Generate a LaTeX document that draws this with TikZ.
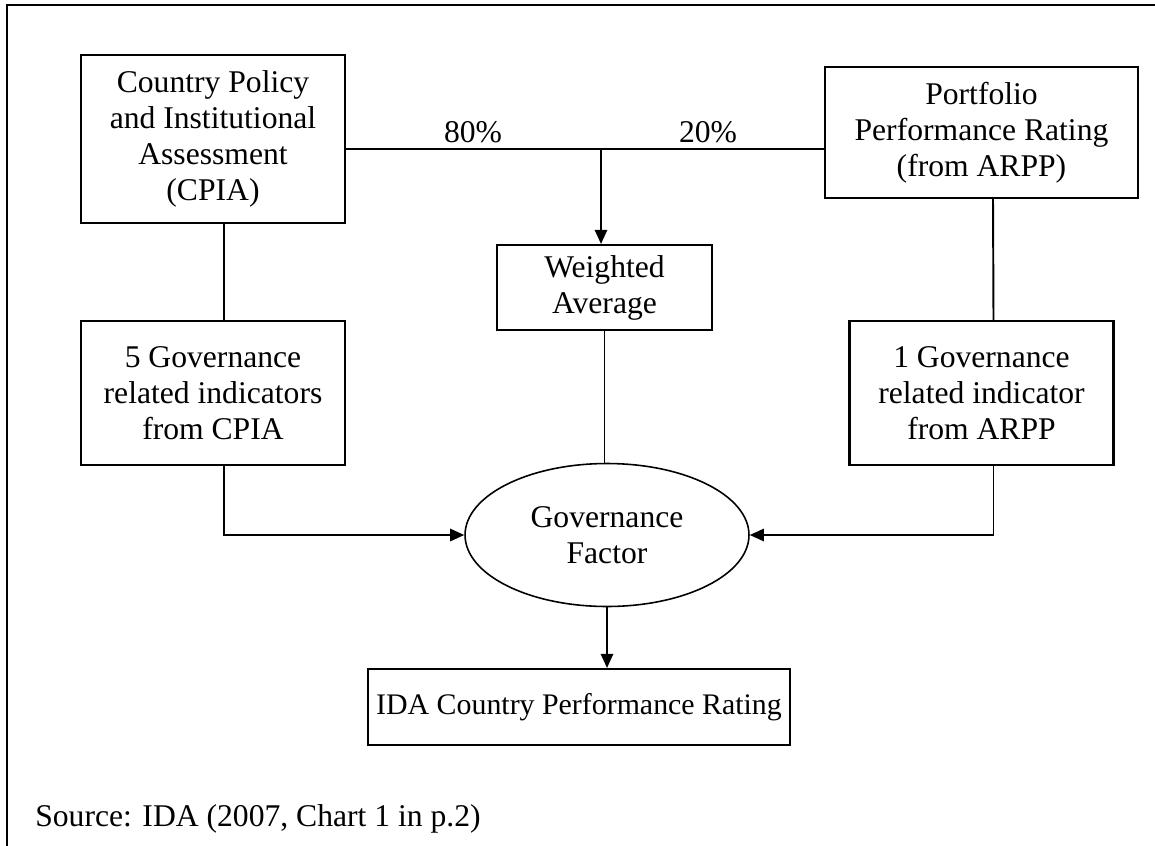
\documentclass[tikz,border=0pt]{standalone}
\usepackage{fontspec}
\setmainfont{Liberation Serif}
\usetikzlibrary{shapes.geometric, arrows.meta, positioning}
\tikzstyle{arrow} = [line width=1.1pt, ->, >={Triangle[length=8pt,width=7pt]}]

\begin{document}
\begin{tikzpicture}[
        x=0.02cm, y=-0.02cm,
        every node/.style={font=\fontsize{18}{20.5}\selectfont},
        box/.style={rectangle, draw, line width=1.2pt, align=center,
            inner sep=1pt},
        factor/.style={ellipse, draw, line width=0.9pt, align=center,
            minimum width=5.68cm, minimum height=2.86cm},
        link/.style={line width=1.1pt}
    ]
    \useasboundingbox (0,0) rectangle (1155,845);
    % outer frame
    \draw[line width=1.3pt] (1180,5) -- (7,5) -- (7,870);

    \node (cpia) [box, minimum width=5.28cm, minimum height=3.36cm]
        at (213,139) {Country Policy\\and Institutional\\Assessment\\(CPIA)};
    \node (port) [box, minimum width=6.26cm, minimum height=2.62cm]
        at (981.5,132.5) {Portfolio\\Performance Rating\\(from ARPP)};
    \node (gov5) [box, minimum width=5.28cm, minimum height=2.88cm,
        below=1.92cm of cpia] {5 Governance\\related indicators\\from CPIA};
    \node (gov1) [box, minimum width=5.28cm, minimum height=2.88cm,
        below=2.42cm of port] {1 Governance\\related indicator\\from ARPP};
    \node (wavg) [box, minimum width=4.30cm, minimum height=1.70cm]
        at (604.5,287.5) {Weighted\\Average};
    \node (gf)   [factor] at (607,535) {Governance\\Factor};
    \node (ida)  [box, minimum width=8.44cm, minimum height=1.52cm,
        font=\fontsize{17}{20}\selectfont]
        at (579,707) {IDA Country Performance Rating};
    \coordinate (mid) at (601,149);
    \node (w80) [anchor=base] at (473,142) {80\%};
    \node (w20) [anchor=base] at (708,142) {20\%};
    \node (src) [anchor=base west, inner sep=0pt] at (35,826)
        {Source: IDA (2007, Chart 1 in p.2)};

    \draw [link] (mid -| cpia.east) -- (mid -| port.west);
    \draw [arrow] (mid) -- (mid |- wavg.north);
    \draw [link] ([xshift=0.22cm]cpia.south) -- ([xshift=0.22cm]gov5.north);
    \draw [link] ([xshift=0.23cm]port.south) -- ([xshift=0.24cm]gov1.north);
    \draw [link] (wavg.south) -- (wavg.south |- gf.north);
    \draw [arrow] ([xshift=0.22cm]gov5.south) |- (gf.west);
    \draw [arrow] ([xshift=0.24cm]gov1.south) |- (gf.east);
    \draw [arrow] (gf.south) -- (gf.south |- ida.north);
\end{tikzpicture}
\end{document}
